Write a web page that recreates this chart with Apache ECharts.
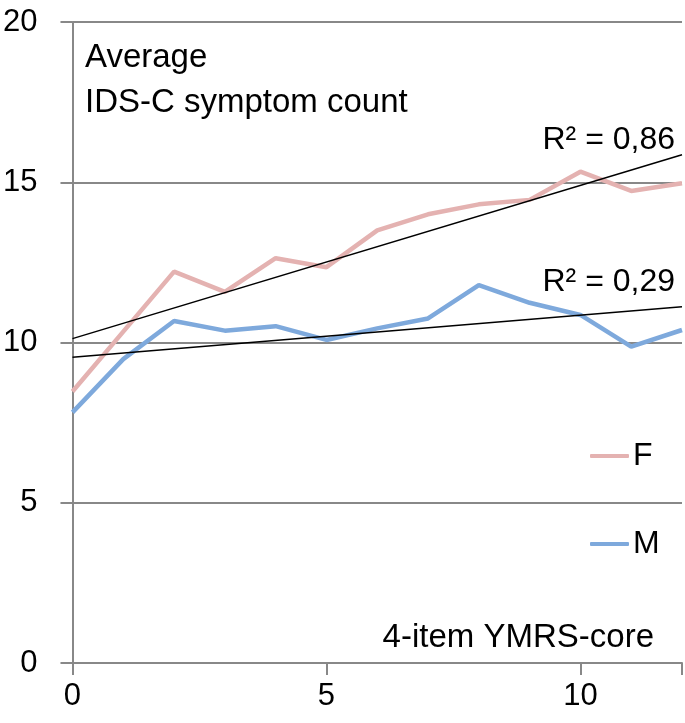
<!DOCTYPE html>
<html><head><meta charset="utf-8">
<script src="https://cdn.jsdelivr.net/npm/echarts@6/dist/echarts.min.js"></script>
<style>html,body{margin:0;padding:0;background:#fff}#c{width:685px;height:723px}</style>
</head><body><div id="c"></div>
<script>
const xValues = [0,1,2,3,4,5,6,7,8,9,10,11,12];
const femaleValues = [8.47,10.34,12.21,11.58,12.63,12.35,13.5,14.0,14.31,14.45,15.33,14.73,14.97];
const maleValues = [7.82,9.48,10.67,10.37,10.51,10.08,10.44,10.75,11.79,11.24,10.86,9.87,10.39];
const seriesNames = ['F','M'];
const yTicks = [0,5,10,15,20];
const xTicks = [0,5,10];
const r2Labels = ['R² = 0,86','R² = 0,29'];
const yTitle = ['Average','IDS-C symptom count'];
const xTitle = '4-item YMRS-core';

function fit(xs, ys){
  const n = xs.length;
  const mx = xs.reduce((a,b)=>a+b,0)/n, my = ys.reduce((a,b)=>a+b,0)/n;
  let sxy=0, sxx=0;
  for(let i=0;i<n;i++){sxy+=(xs[i]-mx)*(ys[i]-my);sxx+=(xs[i]-mx)**2;}
  const b = sxy/sxx, a = my-b*mx;
  const x0 = xs[0], x1 = xs[n-1];
  return [[x0,a+b*x0],[x1,a+b*x1]];
}
const FONT = 'Liberation Sans';
const pink = '#E4B2B1', blue = '#7EA9DC';
const chart = echarts.init(document.getElementById('c'));
chart.setOption({
  animation:false,
  textStyle:{fontFamily:FONT},
  grid:{left:72,right:0,top:22,bottom:60,containLabel:false},
  xAxis:{type:'value',min:0,max:12,interval:5,
    axisLine:{lineStyle:{color:'#888',width:2}},
    axisTick:{show:true,length:12,lineStyle:{color:'#888',width:2}},
    splitLine:{show:false},
    axisLabel:{color:'#000',fontSize:31,fontFamily:FONT,margin:18,
      formatter:v=>xTicks.includes(v)?String(v):''}},
  yAxis:{type:'value',min:0,max:20,interval:5,
    axisLine:{show:true,lineStyle:{color:'#888',width:2}},
    axisTick:{show:true,length:12,lineStyle:{color:'#888',width:2}},
    splitLine:{show:true,lineStyle:{color:'#888',width:2}},
    axisLabel:{color:'#000',fontSize:31,fontFamily:FONT,margin:35,
      formatter:v=>yTicks.includes(v)?String(v):''}},
  legend:[
    {data:[seriesNames[0]],left:590,top:440,padding:0,icon:'roundRect',itemWidth:39,itemHeight:4,itemGap:4,
      textStyle:{fontSize:32,color:'#000',fontFamily:FONT,padding:[0,0,0,-1]}},
    {data:[seriesNames[1]],left:590,top:528,padding:0,icon:'roundRect',itemWidth:39,itemHeight:4,itemGap:4,
      textStyle:{fontSize:32,color:'#000',fontFamily:FONT,padding:[0,0,0,-1]}}
  ],
  graphic:[
    {type:'text',left:85,top:41,style:{text:yTitle[0],fontSize:33,fontFamily:FONT,fill:'#000'}},
    {type:'text',left:85,top:86,style:{text:yTitle[1],fontSize:33,fontFamily:FONT,fill:'#000'}},
    {type:'text',right:10,top:124,style:{text:r2Labels[0],fontSize:32,fontFamily:FONT,fill:'#000'}},
    {type:'text',right:10,top:266,style:{text:r2Labels[1],fontSize:32,fontFamily:FONT,fill:'#000'}},
    {type:'text',right:31,top:621,style:{text:xTitle,fontSize:33,fontFamily:FONT,fill:'#000'}}
  ],
  series:[
    {name:seriesNames[0],type:'line',data:xValues.map((x,i)=>[x,femaleValues[i]]),
      showSymbol:false,lineStyle:{color:pink,width:4.5},itemStyle:{color:pink},z:3},
    {name:seriesNames[1],type:'line',data:xValues.map((x,i)=>[x,maleValues[i]]),
      showSymbol:false,lineStyle:{color:blue,width:4.5},itemStyle:{color:blue},z:3},
    {name:'trendF',type:'line',data:fit(xValues,femaleValues),showSymbol:false,silent:true,
      lineStyle:{color:'#000',width:1.5},z:4},
    {name:'trendM',type:'line',data:fit(xValues,maleValues),showSymbol:false,silent:true,
      lineStyle:{color:'#000',width:1.5},z:4}
  ]
});
</script></body></html>
